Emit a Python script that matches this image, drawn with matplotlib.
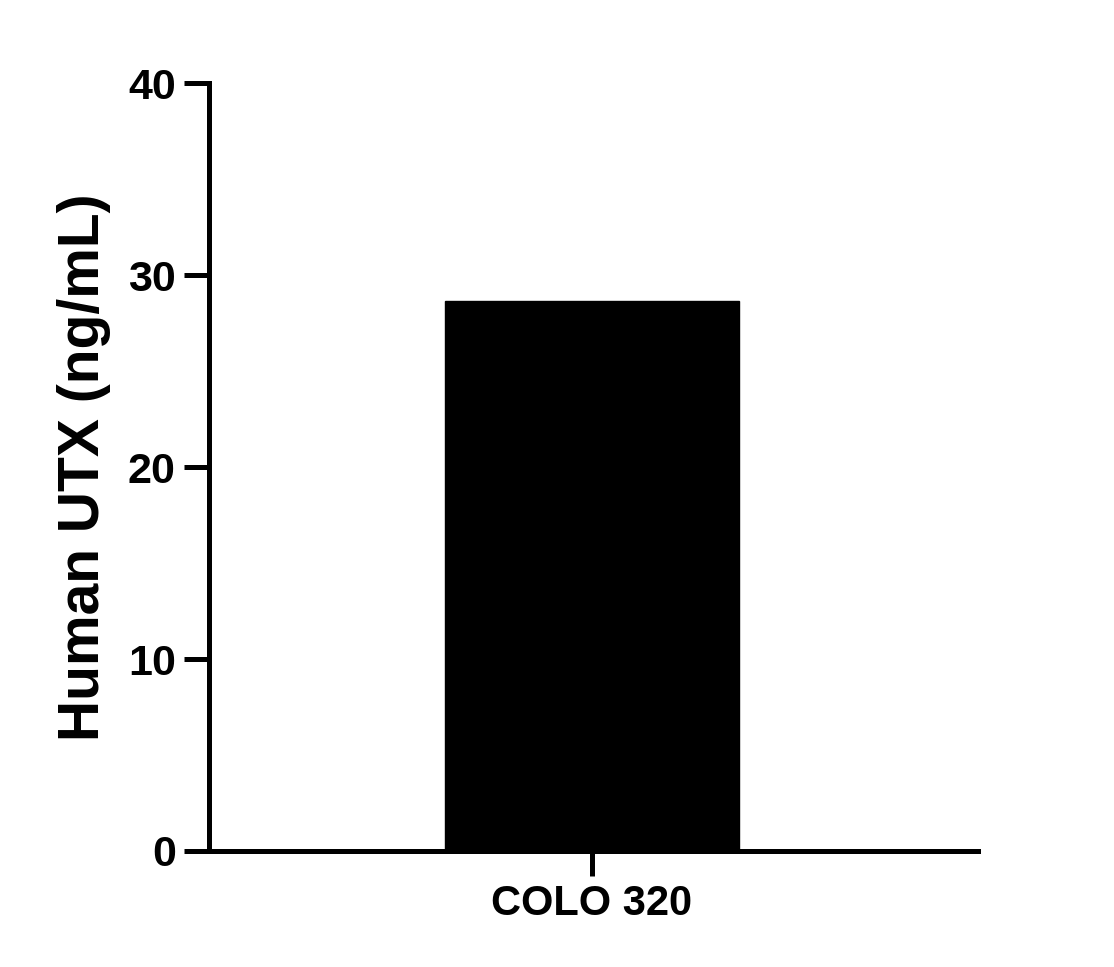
import matplotlib.pyplot as plt

categories = ["COLO 320"]
values = [28.65]
yticks = [0, 10, 20, 30, 40]

plt.rcParams['font.family'] = ['Liberation Sans', 'DejaVu Sans']
plt.rcParams['font.weight'] = 'bold'

fig = plt.figure(figsize=(11.14, 9.67), dpi=100)
ax = fig.add_axes([0.1876, 0.120, 0.690, 0.794])

x = list(range(len(categories)))
ax.bar(x, values, width=1.0, color='black', edgecolor='black')

ax.set_xlim(-1.30, 1.31)
ax.set_ylim(0, 40)
ax.set_yticks(yticks)
ax.set_xticks(x)
ax.set_xticklabels(categories)

for side in ['top', 'right']:
    ax.spines[side].set_visible(False)
for side in ['left', 'bottom']:
    ax.spines[side].set_linewidth(3.6)
    ax.spines[side].set_capstyle('projecting')

ax.tick_params(axis='y', width=3.6, length=18, labelsize=31, pad=6)
ax.tick_params(axis='x', width=3.6, length=18, labelsize=30, pad=6)
for lab in ax.get_xticklabels() + ax.get_yticklabels():
    lab.set_fontweight('bold')

ax.set_ylabel('Human UTX (ng/mL)', fontsize=41, fontweight='bold', labelpad=12)

fig.savefig('out.png', dpi=100)
